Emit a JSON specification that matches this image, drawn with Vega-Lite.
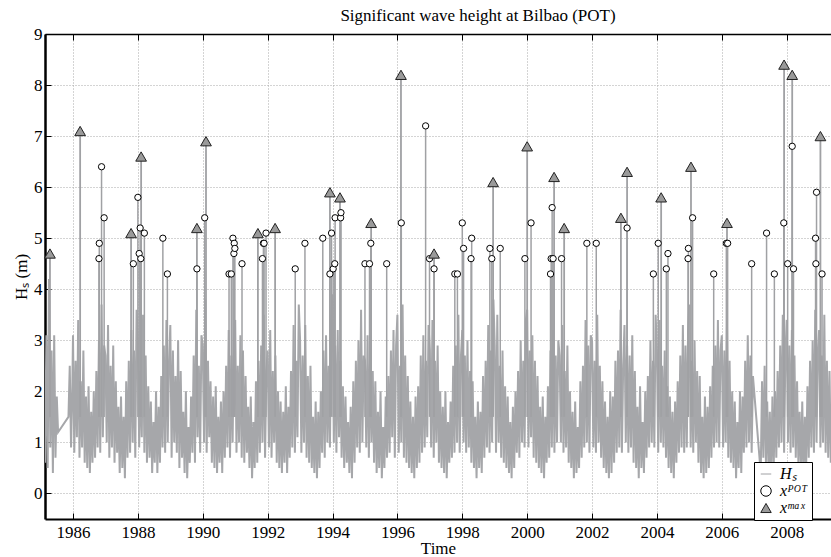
{
"$schema": "https://vega.github.io/schema/vega-lite/v6.json",
"autosize": {"type": "none"},
"padding": {"left": 45, "top": 34, "right": 0, "bottom": 38},
"width": 786,
"height": 485,
"title": {"text": "Significant wave height at Bilbao (POT)", "fontSize": 17, "font": "Liberation Serif", "fontWeight": "normal", "color": "black", "dx": 40, "offset": 0},
"config": {"font": "Liberation Serif", "view": {"stroke": null},
 "legend": {"orient": "none", "legendX": 709, "legendY": 428, "title": null, "fillColor": "white", "strokeColor": "black", "padding": 4,
  "symbolSize": 110, "symbolStrokeWidth": 1, "labelFont": "Liberation Serif", "labelFontSize": 16, "labelFontStyle": "italic", "labelColor": "black", "labelOffset": 6, "rowPadding": 1, "symbolOpacity": 1}},
"datasets": {
"series": [
{"t":1985.14,"h":0.6},{"t":1985.18,"h":3.1},{"t":1985.22,"h":0.5},{"t":1985.26,"h":4.2},{"t":1985.30,"h":0.9},{"t":1985.34,"h":2.8},{"t":1985.38,"h":0.4},{"t":1985.42,"h":3.1},{"t":1985.46,"h":0.7},{"t":1985.50,"h":1.9},{"t":1985.54,"h":1.2},
{"t":1985.86,"h":1.5},{"t":1985.90,"h":2.5},{"t":1985.94,"h":0.9},{"t":1985.98,"h":2.1},
{"t":1986,"h":3.1},{"t":1986.04,"h":0.8},{"t":1986.08,"h":2.6},{"t":1986.12,"h":1.1},{"t":1986.16,"h":3.4},{"t":1986.20,"h":0.7},{"t":1986.24,"h":2.2},{"t":1986.28,"h":0.9},{"t":1986.32,"h":2.8},{"t":1986.36,"h":0.6},{"t":1986.40,"h":1.9},{"t":1986.44,"h":0.5},{"t":1986.48,"h":2.1},{"t":1986.52,"h":0.4},{"t":1986.56,"h":1.6},{"t":1986.60,"h":0.6},{"t":1986.64,"h":2.0},{"t":1986.68,"h":0.7},{"t":1986.72,"h":2.4},{"t":1986.76,"h":0.9},{"t":1986.80,"h":3.0},{"t":1986.84,"h":0.8},{"t":1986.88,"h":3.7},{"t":1986.92,"h":1.1},{"t":1986.96,"h":2.9},
{"t":1987,"h":2.7},{"t":1987.04,"h":1.0},{"t":1987.08,"h":3.3},{"t":1987.12,"h":0.7},{"t":1987.16,"h":2.5},{"t":1987.20,"h":0.9},{"t":1987.24,"h":2.9},{"t":1987.28,"h":0.6},{"t":1987.32,"h":2.2},{"t":1987.36,"h":0.8},{"t":1987.40,"h":1.7},{"t":1987.44,"h":0.4},{"t":1987.48,"h":1.9},{"t":1987.52,"h":0.5},{"t":1987.56,"h":1.5},{"t":1987.60,"h":0.3},{"t":1987.64,"h":2.2},{"t":1987.68,"h":0.7},{"t":1987.72,"h":2.6},{"t":1987.76,"h":0.8},{"t":1987.80,"h":3.2},{"t":1987.84,"h":1.0},{"t":1987.88,"h":2.8},{"t":1987.92,"h":0.7},{"t":1987.96,"h":3.6},
{"t":1988,"h":3.0},{"t":1988.04,"h":0.9},{"t":1988.08,"h":2.4},{"t":1988.12,"h":1.1},{"t":1988.16,"h":3.5},{"t":1988.20,"h":0.8},{"t":1988.24,"h":2.7},{"t":1988.28,"h":0.6},{"t":1988.32,"h":2.1},{"t":1988.36,"h":0.7},{"t":1988.40,"h":1.8},{"t":1988.44,"h":0.4},{"t":1988.48,"h":1.4},{"t":1988.52,"h":0.6},{"t":1988.56,"h":2.0},{"t":1988.60,"h":0.4},{"t":1988.64,"h":1.7},{"t":1988.68,"h":0.6},{"t":1988.72,"h":2.3},{"t":1988.76,"h":0.9},{"t":1988.80,"h":2.9},{"t":1988.84,"h":0.8},{"t":1988.88,"h":3.4},{"t":1988.92,"h":1.0},{"t":1988.96,"h":2.6},
{"t":1989,"h":3.3},{"t":1989.04,"h":0.7},{"t":1989.08,"h":2.8},{"t":1989.12,"h":1.0},{"t":1989.16,"h":2.3},{"t":1989.20,"h":0.8},{"t":1989.24,"h":3.0},{"t":1989.28,"h":0.5},{"t":1989.32,"h":2.4},{"t":1989.36,"h":0.7},{"t":1989.40,"h":1.6},{"t":1989.44,"h":0.4},{"t":1989.48,"h":2.0},{"t":1989.52,"h":0.3},{"t":1989.56,"h":1.3},{"t":1989.60,"h":0.6},{"t":1989.64,"h":1.9},{"t":1989.68,"h":0.8},{"t":1989.72,"h":2.7},{"t":1989.76,"h":0.6},{"t":1989.80,"h":3.6},{"t":1989.84,"h":1.1},{"t":1989.88,"h":2.5},{"t":1989.92,"h":0.8},{"t":1989.96,"h":3.1},
{"t":1990,"h":2.9},{"t":1990.04,"h":1.0},{"t":1990.08,"h":3.8},{"t":1990.12,"h":0.8},{"t":1990.16,"h":2.6},{"t":1990.20,"h":1.1},{"t":1990.24,"h":2.2},{"t":1990.28,"h":0.6},{"t":1990.32,"h":1.9},{"t":1990.36,"h":0.5},{"t":1990.40,"h":2.1},{"t":1990.44,"h":0.4},{"t":1990.48,"h":1.5},{"t":1990.52,"h":0.6},{"t":1990.56,"h":1.8},{"t":1990.60,"h":0.4},{"t":1990.64,"h":2.0},{"t":1990.68,"h":0.7},{"t":1990.72,"h":2.5},{"t":1990.76,"h":0.9},{"t":1990.80,"h":3.2},{"t":1990.84,"h":0.7},{"t":1990.88,"h":2.7},{"t":1990.92,"h":1.0},{"t":1990.96,"h":3.0},
{"t":1991,"h":3.4},{"t":1991.04,"h":0.8},{"t":1991.08,"h":2.5},{"t":1991.12,"h":1.0},{"t":1991.16,"h":3.1},{"t":1991.20,"h":0.7},{"t":1991.24,"h":2.8},{"t":1991.28,"h":0.6},{"t":1991.32,"h":2.3},{"t":1991.36,"h":0.8},{"t":1991.40,"h":1.7},{"t":1991.44,"h":0.5},{"t":1991.48,"h":1.9},{"t":1991.52,"h":0.3},{"t":1991.56,"h":1.4},{"t":1991.60,"h":0.5},{"t":1991.64,"h":2.2},{"t":1991.68,"h":0.6},{"t":1991.72,"h":2.6},{"t":1991.76,"h":0.8},{"t":1991.80,"h":2.9},{"t":1991.84,"h":1.0},{"t":1991.88,"h":3.5},{"t":1991.92,"h":0.7},{"t":1991.96,"h":2.4},
{"t":1992,"h":2.8},{"t":1992.04,"h":0.9},{"t":1992.08,"h":3.2},{"t":1992.12,"h":0.7},{"t":1992.16,"h":2.4},{"t":1992.20,"h":1.0},{"t":1992.24,"h":2.7},{"t":1992.28,"h":0.6},{"t":1992.32,"h":2.0},{"t":1992.36,"h":0.5},{"t":1992.40,"h":1.8},{"t":1992.44,"h":0.4},{"t":1992.48,"h":1.6},{"t":1992.52,"h":0.6},{"t":1992.56,"h":2.1},{"t":1992.60,"h":0.4},{"t":1992.64,"h":1.7},{"t":1992.68,"h":0.7},{"t":1992.72,"h":2.4},{"t":1992.76,"h":0.9},{"t":1992.80,"h":3.3},{"t":1992.84,"h":0.8},{"t":1992.88,"h":2.6},{"t":1992.92,"h":1.1},{"t":1992.96,"h":3.7},
{"t":1993,"h":3.0},{"t":1993.04,"h":0.8},{"t":1993.08,"h":2.7},{"t":1993.12,"h":1.0},{"t":1993.16,"h":3.3},{"t":1993.20,"h":0.7},{"t":1993.24,"h":2.3},{"t":1993.28,"h":0.6},{"t":1993.32,"h":2.5},{"t":1993.36,"h":0.5},{"t":1993.40,"h":1.5},{"t":1993.44,"h":0.4},{"t":1993.48,"h":1.8},{"t":1993.52,"h":0.3},{"t":1993.56,"h":1.6},{"t":1993.60,"h":0.5},{"t":1993.64,"h":2.0},{"t":1993.68,"h":0.8},{"t":1993.72,"h":2.8},{"t":1993.76,"h":0.7},{"t":1993.80,"h":3.1},{"t":1993.84,"h":1.0},{"t":1993.88,"h":2.5},{"t":1993.92,"h":0.9},{"t":1993.96,"h":3.4},
{"t":1994,"h":3.9},{"t":1994.04,"h":1.0},{"t":1994.08,"h":2.9},{"t":1994.12,"h":0.8},{"t":1994.16,"h":3.2},{"t":1994.20,"h":1.1},{"t":1994.24,"h":2.6},{"t":1994.28,"h":0.7},{"t":1994.32,"h":2.1},{"t":1994.36,"h":0.5},{"t":1994.40,"h":1.9},{"t":1994.44,"h":0.6},{"t":1994.48,"h":1.4},{"t":1994.52,"h":0.4},{"t":1994.56,"h":1.7},{"t":1994.60,"h":0.3},{"t":1994.64,"h":2.2},{"t":1994.68,"h":0.6},{"t":1994.72,"h":2.6},{"t":1994.76,"h":0.9},{"t":1994.80,"h":3.0},{"t":1994.84,"h":0.8},{"t":1994.88,"h":3.6},{"t":1994.92,"h":1.0},{"t":1994.96,"h":2.7},
{"t":1995,"h":2.6},{"t":1995.04,"h":0.9},{"t":1995.08,"h":3.1},{"t":1995.12,"h":0.7},{"t":1995.16,"h":2.8},{"t":1995.20,"h":1.0},{"t":1995.24,"h":2.4},{"t":1995.28,"h":0.6},{"t":1995.32,"h":2.2},{"t":1995.36,"h":0.4},{"t":1995.40,"h":1.6},{"t":1995.44,"h":0.5},{"t":1995.48,"h":2.0},{"t":1995.52,"h":0.3},{"t":1995.56,"h":1.3},{"t":1995.60,"h":0.5},{"t":1995.64,"h":1.9},{"t":1995.68,"h":0.7},{"t":1995.72,"h":2.3},{"t":1995.76,"h":0.8},{"t":1995.80,"h":2.8},{"t":1995.84,"h":1.1},{"t":1995.88,"h":3.2},{"t":1995.92,"h":0.7},{"t":1995.96,"h":2.9},
{"t":1996,"h":3.5},{"t":1996.04,"h":0.8},{"t":1996.08,"h":2.5},{"t":1996.12,"h":1.0},{"t":1996.16,"h":3.7},{"t":1996.20,"h":0.7},{"t":1996.24,"h":2.7},{"t":1996.28,"h":0.6},{"t":1996.32,"h":2.3},{"t":1996.36,"h":0.5},{"t":1996.40,"h":1.8},{"t":1996.44,"h":0.4},{"t":1996.48,"h":1.5},{"t":1996.52,"h":0.3},{"t":1996.56,"h":1.9},{"t":1996.60,"h":0.5},{"t":1996.64,"h":2.1},{"t":1996.68,"h":0.6},{"t":1996.72,"h":2.7},{"t":1996.76,"h":0.8},{"t":1996.80,"h":3.1},{"t":1996.84,"h":0.9},{"t":1996.88,"h":2.6},{"t":1996.92,"h":1.1},{"t":1996.96,"h":3.3},
{"t":1997,"h":2.8},{"t":1997.04,"h":0.9},{"t":1997.08,"h":3.4},{"t":1997.12,"h":0.7},{"t":1997.16,"h":2.6},{"t":1997.20,"h":1.0},{"t":1997.24,"h":2.9},{"t":1997.28,"h":0.6},{"t":1997.32,"h":2.0},{"t":1997.36,"h":0.5},{"t":1997.40,"h":1.7},{"t":1997.44,"h":0.4},{"t":1997.48,"h":2.0},{"t":1997.52,"h":0.3},{"t":1997.56,"h":1.4},{"t":1997.60,"h":0.6},{"t":1997.64,"h":1.8},{"t":1997.68,"h":0.7},{"t":1997.72,"h":2.5},{"t":1997.76,"h":0.8},{"t":1997.80,"h":2.9},{"t":1997.84,"h":1.0},{"t":1997.88,"h":3.5},{"t":1997.92,"h":0.8},{"t":1997.96,"h":2.7},
{"t":1998,"h":3.2},{"t":1998.04,"h":1.0},{"t":1998.08,"h":2.7},{"t":1998.12,"h":0.8},{"t":1998.16,"h":3.0},{"t":1998.20,"h":0.9},{"t":1998.24,"h":2.4},{"t":1998.28,"h":0.6},{"t":1998.32,"h":2.2},{"t":1998.36,"h":0.5},{"t":1998.40,"h":1.5},{"t":1998.44,"h":0.3},{"t":1998.48,"h":1.8},{"t":1998.52,"h":0.5},{"t":1998.56,"h":1.6},{"t":1998.60,"h":0.4},{"t":1998.64,"h":2.3},{"t":1998.68,"h":0.7},{"t":1998.72,"h":2.6},{"t":1998.76,"h":0.9},{"t":1998.80,"h":3.3},{"t":1998.84,"h":0.8},{"t":1998.88,"h":2.8},{"t":1998.92,"h":1.0},{"t":1998.96,"h":3.8},
{"t":1999,"h":2.9},{"t":1999.04,"h":0.8},{"t":1999.08,"h":3.5},{"t":1999.12,"h":1.0},{"t":1999.16,"h":2.5},{"t":1999.20,"h":0.7},{"t":1999.24,"h":2.8},{"t":1999.28,"h":0.6},{"t":1999.32,"h":2.1},{"t":1999.36,"h":0.5},{"t":1999.40,"h":1.9},{"t":1999.44,"h":0.4},{"t":1999.48,"h":1.4},{"t":1999.52,"h":0.3},{"t":1999.56,"h":1.7},{"t":1999.60,"h":0.5},{"t":1999.64,"h":2.0},{"t":1999.68,"h":0.8},{"t":1999.72,"h":2.4},{"t":1999.76,"h":0.7},{"t":1999.80,"h":3.0},{"t":1999.84,"h":1.0},{"t":1999.88,"h":2.6},{"t":1999.92,"h":0.9},{"t":1999.96,"h":3.4},
{"t":2000,"h":3.6},{"t":2000.04,"h":0.9},{"t":2000.08,"h":2.8},{"t":2000.12,"h":1.1},{"t":2000.16,"h":3.1},{"t":2000.20,"h":0.7},{"t":2000.24,"h":2.6},{"t":2000.28,"h":0.6},{"t":2000.32,"h":2.3},{"t":2000.36,"h":0.5},{"t":2000.40,"h":1.7},{"t":2000.44,"h":0.4},{"t":2000.48,"h":1.9},{"t":2000.52,"h":0.3},{"t":2000.56,"h":1.5},{"t":2000.60,"h":0.6},{"t":2000.64,"h":2.1},{"t":2000.68,"h":0.7},{"t":2000.72,"h":2.8},{"t":2000.76,"h":0.9},{"t":2000.80,"h":3.2},{"t":2000.84,"h":0.8},{"t":2000.88,"h":2.7},{"t":2000.92,"h":1.0},{"t":2000.96,"h":3.0},
{"t":2001,"h":2.7},{"t":2001.04,"h":1.0},{"t":2001.08,"h":3.3},{"t":2001.12,"h":0.8},{"t":2001.16,"h":2.4},{"t":2001.20,"h":0.9},{"t":2001.24,"h":2.9},{"t":2001.28,"h":0.6},{"t":2001.32,"h":2.0},{"t":2001.36,"h":0.5},{"t":2001.40,"h":1.6},{"t":2001.44,"h":0.3},{"t":2001.48,"h":1.8},{"t":2001.52,"h":0.4},{"t":2001.56,"h":1.3},{"t":2001.60,"h":0.5},{"t":2001.64,"h":2.2},{"t":2001.68,"h":0.7},{"t":2001.72,"h":2.5},{"t":2001.76,"h":0.9},{"t":2001.80,"h":3.4},{"t":2001.84,"h":1.0},{"t":2001.88,"h":2.9},{"t":2001.92,"h":0.8},{"t":2001.96,"h":3.1},
{"t":2002,"h":3.0},{"t":2002.04,"h":0.9},{"t":2002.08,"h":2.6},{"t":2002.12,"h":0.8},{"t":2002.16,"h":3.5},{"t":2002.20,"h":1.0},{"t":2002.24,"h":2.5},{"t":2002.28,"h":0.7},{"t":2002.32,"h":2.2},{"t":2002.36,"h":0.5},{"t":2002.40,"h":1.8},{"t":2002.44,"h":0.4},{"t":2002.48,"h":1.5},{"t":2002.52,"h":0.3},{"t":2002.56,"h":2.0},{"t":2002.60,"h":0.4},{"t":2002.64,"h":1.9},{"t":2002.68,"h":0.6},{"t":2002.72,"h":2.6},{"t":2002.76,"h":0.8},{"t":2002.80,"h":2.8},{"t":2002.84,"h":0.9},{"t":2002.88,"h":3.6},{"t":2002.92,"h":0.8},{"t":2002.96,"h":2.5},
{"t":2003,"h":3.3},{"t":2003.04,"h":1.0},{"t":2003.08,"h":2.9},{"t":2003.12,"h":0.8},{"t":2003.16,"h":2.7},{"t":2003.20,"h":0.9},{"t":2003.24,"h":3.1},{"t":2003.28,"h":0.6},{"t":2003.32,"h":2.4},{"t":2003.36,"h":0.5},{"t":2003.40,"h":1.7},{"t":2003.44,"h":0.3},{"t":2003.48,"h":2.1},{"t":2003.52,"h":0.5},{"t":2003.56,"h":1.4},{"t":2003.60,"h":0.4},{"t":2003.64,"h":2.0},{"t":2003.68,"h":0.7},{"t":2003.72,"h":2.3},{"t":2003.76,"h":0.9},{"t":2003.80,"h":3.0},{"t":2003.84,"h":1.0},{"t":2003.88,"h":2.6},{"t":2003.92,"h":0.9},{"t":2003.96,"h":3.5},
{"t":2004,"h":2.8},{"t":2004.04,"h":0.8},{"t":2004.08,"h":3.4},{"t":2004.12,"h":1.0},{"t":2004.16,"h":2.5},{"t":2004.20,"h":0.9},{"t":2004.24,"h":2.8},{"t":2004.28,"h":0.7},{"t":2004.32,"h":2.1},{"t":2004.36,"h":0.5},{"t":2004.40,"h":1.9},{"t":2004.44,"h":0.4},{"t":2004.48,"h":1.6},{"t":2004.52,"h":0.3},{"t":2004.56,"h":1.8},{"t":2004.60,"h":0.6},{"t":2004.64,"h":2.2},{"t":2004.68,"h":0.8},{"t":2004.72,"h":2.7},{"t":2004.76,"h":0.9},{"t":2004.80,"h":3.3},{"t":2004.84,"h":0.8},{"t":2004.88,"h":2.9},{"t":2004.92,"h":0.9},{"t":2004.96,"h":3.2},
{"t":2005,"h":3.7},{"t":2005.04,"h":0.9},{"t":2005.08,"h":2.6},{"t":2005.12,"h":0.8},{"t":2005.16,"h":3.0},{"t":2005.20,"h":1.0},{"t":2005.24,"h":2.4},{"t":2005.28,"h":0.6},{"t":2005.32,"h":2.3},{"t":2005.36,"h":0.4},{"t":2005.40,"h":1.5},{"t":2005.44,"h":0.3},{"t":2005.48,"h":1.9},{"t":2005.52,"h":0.4},{"t":2005.56,"h":1.7},{"t":2005.60,"h":0.5},{"t":2005.64,"h":2.1},{"t":2005.68,"h":0.7},{"t":2005.72,"h":2.5},{"t":2005.76,"h":0.9},{"t":2005.80,"h":2.9},{"t":2005.84,"h":1.0},{"t":2005.88,"h":3.4},{"t":2005.92,"h":0.9},{"t":2005.96,"h":2.8},
{"t":2006,"h":3.1},{"t":2006.04,"h":0.9},{"t":2006.08,"h":2.8},{"t":2006.12,"h":1.0},{"t":2006.16,"h":3.3},{"t":2006.20,"h":0.7},{"t":2006.24,"h":2.6},{"t":2006.28,"h":0.6},{"t":2006.32,"h":2.0},{"t":2006.36,"h":0.5},{"t":2006.40,"h":1.8},{"t":2006.44,"h":0.3},{"t":2006.48,"h":1.4},{"t":2006.52,"h":0.5},{"t":2006.56,"h":2.0},{"t":2006.60,"h":0.4},{"t":2006.64,"h":1.9},{"t":2006.68,"h":0.8},{"t":2006.72,"h":2.6},{"t":2006.76,"h":0.9},{"t":2006.80,"h":3.1},{"t":2006.84,"h":1.0},{"t":2006.88,"h":2.7},{"t":2006.92,"h":0.8},{"t":2006.96,"h":2.3},
{"t":2007.20,"h":0.4},{"t":2007.24,"h":2.2},{"t":2007.28,"h":0.7},{"t":2007.32,"h":2.5},{"t":2007.36,"h":0.6},{"t":2007.40,"h":1.8},{"t":2007.44,"h":0.4},{"t":2007.48,"h":1.6},{"t":2007.52,"h":0.3},{"t":2007.56,"h":1.9},{"t":2007.60,"h":0.5},{"t":2007.64,"h":2.0},{"t":2007.68,"h":0.7},{"t":2007.72,"h":2.4},{"t":2007.76,"h":0.9},{"t":2007.80,"h":2.9},{"t":2007.84,"h":1.0},{"t":2007.88,"h":3.5},{"t":2007.92,"h":0.8},{"t":2007.96,"h":2.7},
{"t":2008,"h":3.4},{"t":2008.04,"h":1.0},{"t":2008.08,"h":2.9},{"t":2008.12,"h":0.8},{"t":2008.16,"h":3.2},{"t":2008.20,"h":0.9},{"t":2008.24,"h":2.7},{"t":2008.28,"h":0.7},{"t":2008.32,"h":2.2},{"t":2008.36,"h":0.6},{"t":2008.40,"h":1.6},{"t":2008.44,"h":0.4},{"t":2008.48,"h":1.8},{"t":2008.52,"h":0.3},{"t":2008.56,"h":1.5},{"t":2008.60,"h":0.5},{"t":2008.64,"h":2.1},{"t":2008.68,"h":0.7},{"t":2008.72,"h":2.6},{"t":2008.76,"h":0.9},{"t":2008.80,"h":3.0},{"t":2008.84,"h":0.8},{"t":2008.88,"h":3.6},{"t":2008.92,"h":1.0},{"t":2008.96,"h":2.8},
{"t":2009,"h":3.2},{"t":2009.04,"h":0.9},{"t":2009.08,"h":2.7},{"t":2009.12,"h":1.0},{"t":2009.16,"h":3.5},{"t":2009.20,"h":0.8},{"t":2009.24,"h":2.6},{"t":2009.28,"h":0.7},{"t":2009.32,"h":2.4},{"t":2009.36,"h":0.6}
],
"pot": [
{"t":1986.80,"h":4.6},{"t":1986.81,"h":4.9},{"t":1986.88,"h":6.4},{"t":1986.96,"h":5.4},
{"t":1987.86,"h":4.5},{"t":1988.00,"h":5.8},{"t":1988.04,"h":4.7},{"t":1988.07,"h":5.2},{"t":1988.09,"h":4.6},{"t":1988.20,"h":5.1},{"t":1988.77,"h":5.0},{"t":1988.91,"h":4.3},
{"t":1989.82,"h":4.4},{"t":1990.06,"h":5.4},{"t":1990.81,"h":4.3},{"t":1990.88,"h":4.3},{"t":1990.93,"h":5.0},{"t":1990.96,"h":4.7},{"t":1990.97,"h":4.9},{"t":1990.99,"h":4.8},
{"t":1991.21,"h":4.5},{"t":1991.84,"h":4.6},{"t":1991.87,"h":4.9},{"t":1991.89,"h":4.9},{"t":1991.95,"h":5.1},{"t":1992.85,"h":4.4},{"t":1993.15,"h":4.9},{"t":1993.70,"h":5.0},
{"t":1993.92,"h":4.3},{"t":1993.97,"h":5.1},{"t":1994.02,"h":4.4},{"t":1994.07,"h":4.5},{"t":1994.08,"h":5.4},{"t":1994.25,"h":5.4},{"t":1994.26,"h":5.5},
{"t":1995.00,"h":4.5},{"t":1995.14,"h":4.5},{"t":1995.18,"h":4.9},{"t":1995.67,"h":4.5},{"t":1996.12,"h":5.3},{"t":1996.87,"h":7.2},{"t":1996.99,"h":4.6},{"t":1997.13,"h":4.4},
{"t":1997.77,"h":4.3},{"t":1997.85,"h":4.3},{"t":1998.00,"h":5.3},{"t":1998.04,"h":4.8},{"t":1998.27,"h":4.6},{"t":1998.29,"h":5.0},{"t":1998.85,"h":4.8},{"t":1998.91,"h":4.6},
{"t":1999.17,"h":4.8},{"t":1999.93,"h":4.6},{"t":2000.12,"h":5.3},{"t":2000.72,"h":4.3},{"t":2000.74,"h":4.6},{"t":2000.77,"h":5.6},{"t":2000.80,"h":4.6},{"t":2001.06,"h":4.6},
{"t":2001.84,"h":4.9},{"t":2002.13,"h":4.9},{"t":2003.08,"h":5.2},{"t":2003.89,"h":4.3},{"t":2004.04,"h":4.9},{"t":2004.29,"h":4.4},{"t":2004.34,"h":4.7},
{"t":2004.96,"h":4.6},{"t":2004.97,"h":4.8},{"t":2005.10,"h":5.4},{"t":2005.75,"h":4.3},{"t":2006.14,"h":4.9},{"t":2006.18,"h":4.9},{"t":2006.92,"h":4.5},
{"t":2007.38,"h":5.1},{"t":2007.62,"h":4.3},{"t":2007.91,"h":5.3},{"t":2008.03,"h":4.5},{"t":2008.17,"h":6.8},{"t":2008.21,"h":4.4},
{"t":2008.89,"h":5.0},{"t":2008.90,"h":4.5},{"t":2008.92,"h":5.9},{"t":2009.09,"h":4.3}
],
"max": [
{"t":1985.29,"h":4.7},{"t":1986.22,"h":7.1},{"t":1987.79,"h":5.1},{"t":1988.10,"h":6.6},{"t":1989.82,"h":5.2},{"t":1990.10,"h":6.9},{"t":1991.70,"h":5.1},{"t":1992.23,"h":5.2},
{"t":1993.92,"h":5.9},{"t":1994.23,"h":5.8},{"t":1995.19,"h":5.3},{"t":1996.11,"h":8.2},{"t":1997.13,"h":4.7},{"t":1998.95,"h":6.1},{"t":2000.00,"h":6.8},{"t":2000.83,"h":6.2},
{"t":2001.14,"h":5.2},{"t":2002.89,"h":5.4},{"t":2003.08,"h":6.3},{"t":2004.13,"h":5.8},{"t":2005.05,"h":6.4},{"t":2006.16,"h":5.3},{"t":2007.92,"h":8.4},{"t":2008.17,"h":8.2},{"t":2009.04,"h":7.0}
]
},
"resolve": {"axis": {"x": "independent"}},
"layer": [
{
"data": {"name": "series"},
"mark": {"type": "line", "color": "#a6a7aa", "strokeWidth": 2, "clip": true},
"encoding": {
"x": {"field": "t", "type": "quantitative", "scale": {"domain": [1985.137, 2009.366], "nice": false, "zero": false},
 "axis": {"orient": "bottom", "values": [1986,1988,1990,1992,1994,1996,1998,2000,2002,2004,2006,2008], "format": "d", "title": "Time",
  "tickSize": -6, "tickColor": "black", "labelPadding": 11, "labelFontSize": 17, "labelColor": "black", "labelFont": "Liberation Serif", "labelFlush": false,
  "domainColor": "black", "domainWidth": 2, "grid": true, "gridDash": [1, 2], "gridColor": "#a8a8a8", "gridWidth": 1,
  "titleFontSize": 17, "titleFont": "Liberation Serif", "titleFontWeight": "normal", "titleColor": "black", "titlePadding": 0}},
"y": {"field": "h", "type": "quantitative", "scale": {"domain": [-0.5, 9], "nice": false, "zero": false},
 "axis": {"values": [0,1,2,3,4,5,6,7,8,9], "title": "Hₛ (m)", "tickSize": -6, "tickColor": "black", "labelPadding": 9, "labelFontSize": 17, "labelColor": "black", "labelFont": "Liberation Serif",
  "domainColor": "black", "domainWidth": 2.5, "grid": true, "gridDash": [1, 2], "gridColor": "#a8a8a8", "gridWidth": 1,
  "titleFontSize": 17, "titleFont": "Liberation Serif", "titleFontWeight": "normal", "titleColor": "black", "titlePadding": 3}}
}
},
{
"data": {"name": "pot"},
"mark": {"type": "rule", "color": "#a0a1a4", "strokeWidth": 1.5},
"encoding": {
"x": {"field": "t", "type": "quantitative", "axis": null},
"y": {"field": "h", "type": "quantitative"},
"y2": {"datum": 1.5}
}
},
{
"data": {"name": "max"},
"mark": {"type": "rule", "color": "#a0a1a4", "strokeWidth": 1.8},
"encoding": {
"x": {"field": "t", "type": "quantitative",
 "axis": {"orient": "top", "labels": false, "title": null, "grid": false, "values": [1986,1988,1990,1992,1994,1996,1998,2000,2002,2004,2006,2008], "tickSize": -6, "tickColor": "black", "domainColor": "black", "domainWidth": 1.5}},
"y": {"field": "h", "type": "quantitative"},
"y2": {"datum": 1.5}
}
},
{
"data": {"name": "pot"},
"mark": {"type": "point", "filled": true, "strokeWidth": 1, "size": 40, "opacity": 1},
"encoding": {
"x": {"field": "t", "type": "quantitative", "axis": null},
"y": {"field": "h", "type": "quantitative"},
"shape": {"datum": "xPOT", "type": "nominal",
 "scale": {"domain": ["Hs", "xPOT", "xmax"], "range": ["stroke", "circle", "triangle-up"]},
 "legend": {"labelExpr": "datum.value === 'Hs' ? 'Hₛ' : datum.value === 'xPOT' ? 'xᴾᴼᵀ' : 'xᵐᵃˣ'"}},
"fill": {"datum": "xPOT", "type": "nominal",
 "scale": {"domain": ["Hs", "xPOT", "xmax"], "range": ["#a0a1a4", "white", "#9a9a9a"]},
 "legend": {"labelExpr": "datum.value === 'Hs' ? 'Hₛ' : datum.value === 'xPOT' ? 'xᴾᴼᵀ' : 'xᵐᵃˣ'"}},
"stroke": {"datum": "xPOT", "type": "nominal",
 "scale": {"domain": ["Hs", "xPOT", "xmax"], "range": ["#a0a1a4", "black", "#222222"]},
 "legend": {"labelExpr": "datum.value === 'Hs' ? 'Hₛ' : datum.value === 'xPOT' ? 'xᴾᴼᵀ' : 'xᵐᵃˣ'"}}
}
},
{
"data": {"name": "max"},
"mark": {"type": "point", "filled": true, "strokeWidth": 1, "size": 115, "opacity": 1},
"encoding": {
"x": {"field": "t", "type": "quantitative", "axis": null},
"y": {"field": "h", "type": "quantitative"},
"shape": {"datum": "xmax", "type": "nominal"},
"fill": {"datum": "xmax", "type": "nominal"},
"stroke": {"datum": "xmax", "type": "nominal"}
}
}
]
}
